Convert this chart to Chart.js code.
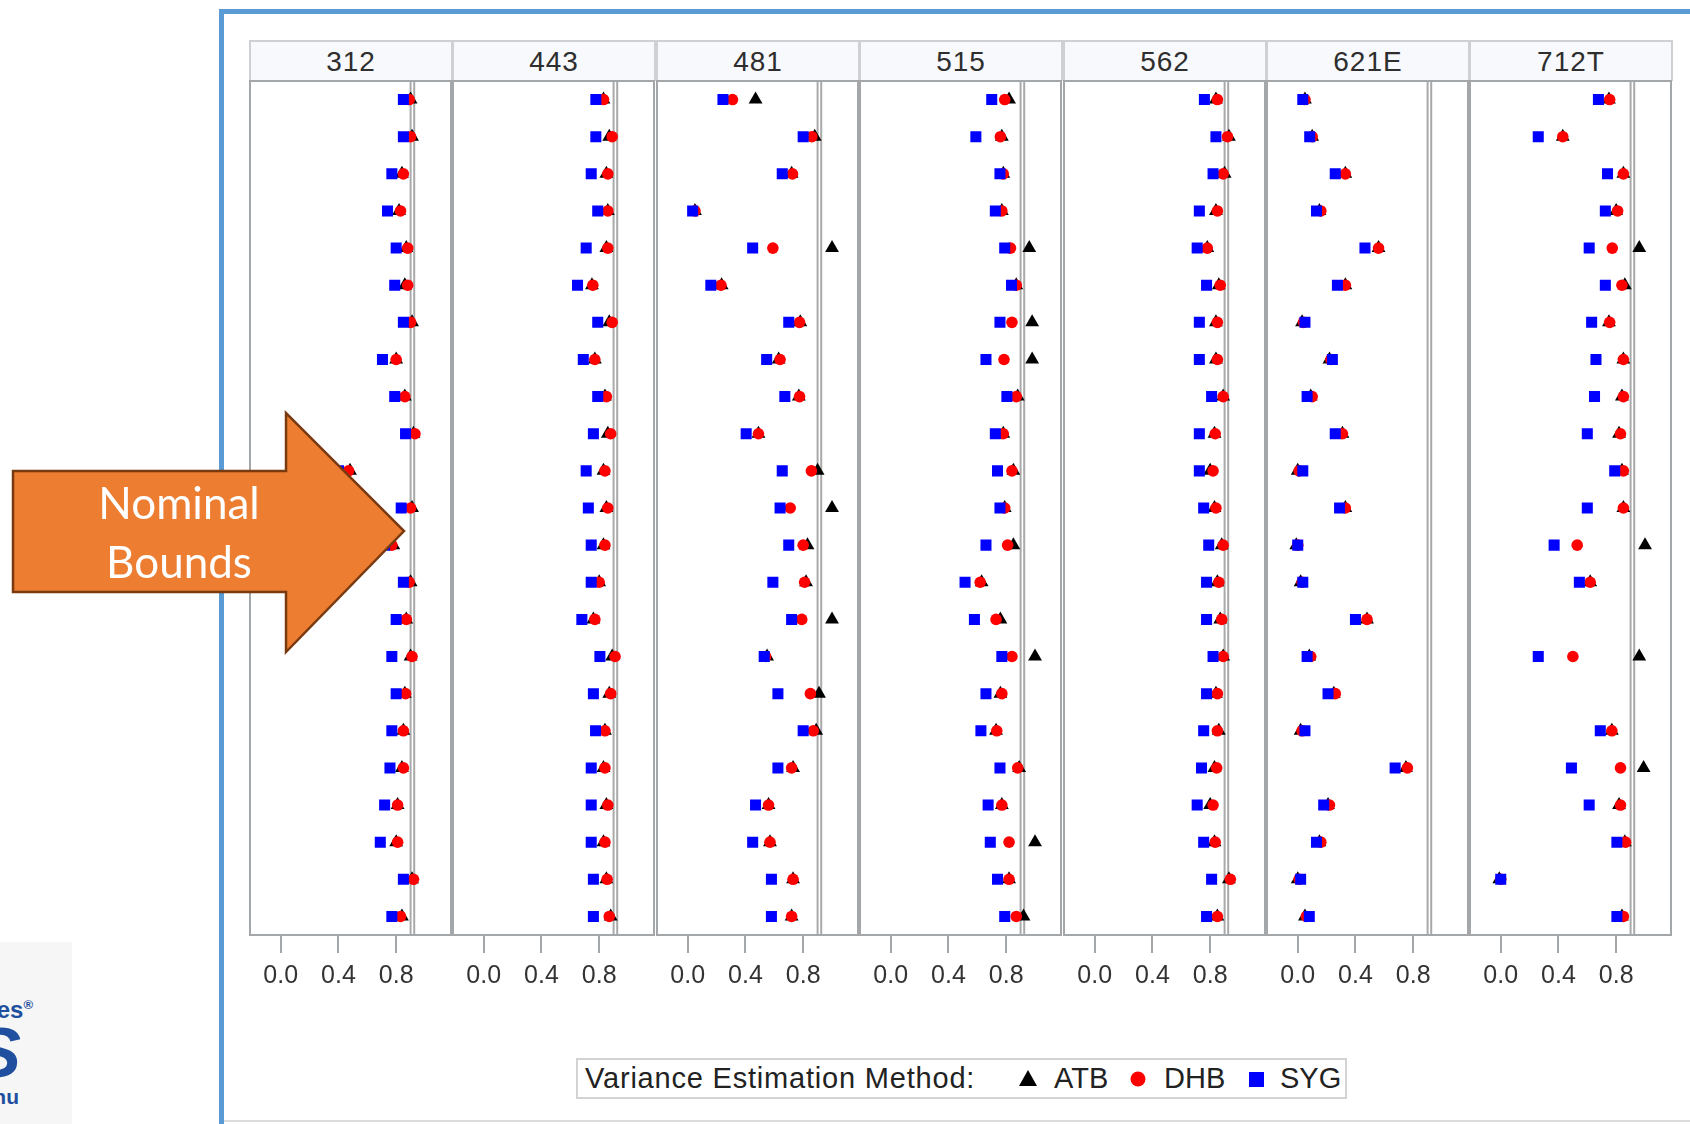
<!DOCTYPE html>
<html>
<head>
<meta charset="utf-8">
<script src="https://cdn.jsdelivr.net/npm/chart.js@4.4.1/dist/chart.umd.min.js"></script>
<style>
  html, body { margin: 0; padding: 0; background: #fff; }
  body { width: 1690px; height: 1124px; position: relative; overflow: hidden;
         font-family: 'Liberation Sans', Arial, sans-serif; }
  .frame { position: absolute; left: 219px; top: 9px; width: 1600px; height: 1300px;
           border: 5px solid #5b9bd5; box-sizing: border-box; }
  .bottom-rule { position: absolute; left: 224px; top: 1120px; width: 1470px; height: 2px; background: #dcdcdc; }
  .hdr { position: absolute; top: 40px; height: 41px; box-sizing: border-box;
         border: 2px solid #cfd0d3; border-bottom: none; background: #f8f9fd;
         color: #2e2e2e; font-size: 28px; line-height: 39px; text-align: center; letter-spacing: 1px; }
  canvas.panel { position: absolute; top: 77px; }
  .legend-box { position: absolute; left: 576px; top: 1058px; width: 771px; height: 41px;
                box-sizing: border-box; border: 2px solid #d3d3d3; background: #fff; }
  .lg { position: absolute; top: 1063px; height: 30px; line-height: 30px; font-size: 29px; color: #222; white-space: nowrap; }
  .logo { position: absolute; left: 0; top: 942px; width: 72px; height: 182px; background: #f6f6f6; }
  .logo span { position: absolute; color: #1f4f9e; font-weight: bold; white-space: nowrap; transform: translateX(-100%); }
  svg.overlay { position: absolute; left: 0; top: 0; }
</style>
</head>
<body>
<div class="frame"></div>
<div class="bottom-rule"></div>

<div class="logo">
  <span style="left:33px; top:54px; font-size:24px;">ces<sup style="font-size:13px;">®</sup></span>
  <span style="left:21px; top:76px; font-size:70px; line-height:70px; font-style:italic;">S</span>
  <span style="left:19px; top:143px; font-size:21px;">nu</span>
</div>

<div class="legend-box"></div>
<div class="lg" style="left:585px; letter-spacing:0.8px;">Variance Estimation Method:</div>
<svg class="overlay" width="1690" height="1124" style="pointer-events:none;">
  <polygon points="1019,1086 1037,1086 1028,1070" fill="#000"/>
  <circle cx="1138" cy="1079" r="7.5" fill="#ff0000"/>
  <rect x="1249" y="1072" width="15" height="15" fill="#0000ff"/>
</svg>
<div class="lg" style="left:1054px;">ATB</div>
<div class="lg" style="left:1164px;">DHB</div>
<div class="lg" style="left:1280px;">SYG</div>

<script>
// Panels (one per stratum) and the 23 rows plotted in each panel, top to bottom
const PANELS = ['312', '443', '481', '515', '562', '621E', '712T'];
const ROWS = ['1', '2', '3', '4', '5', '6', '7', '8', '9', '10', '11', '12',
              '13', '14', '15', '16', '17', '18', '19', '20', '21', '22', '23'];

// Axis ticks and the nominal coverage bounds
const X_TICKS = [0, 0.4, 0.8];
const X_TICK_LABELS = ['0.0', '0.4', '0.8'];
const NOMINAL_BOUNDS = [0.9, 0.925];

// Coverage by variance estimation method, one array per panel (null = not estimated)
const ATB = [
  [0.90, 0.91, 0.84, 0.82, 0.87, 0.86, 0.91, 0.80, 0.86, 0.92, 0.48, 0.91, 0.78, 0.90, 0.87, 0.90, 0.86, 0.85, 0.84, 0.81, 0.80, 0.91, 0.84],
  [0.83, 0.87, 0.85, 0.86, 0.85, 0.75, 0.87, 0.77, 0.84, 0.86, 0.83, 0.85, 0.83, 0.80, 0.76, 0.89, 0.87, 0.84, 0.83, 0.85, 0.83, 0.85, 0.88],
  [0.47, 0.88, 0.72, 0.05, 1.00, 0.235, 0.78, 0.63, 0.77, 0.49, 0.90, 1.00, 0.83, 0.82, 1.00, 0.55, 0.91, 0.89, 0.73, 0.56, 0.57, 0.73, 0.72],
  [0.82, 0.77, 0.78, 0.77, 0.96, 0.87, 0.98, 0.98, 0.88, 0.78, 0.85, 0.79, 0.85, 0.63, 0.76, 1.00, 0.76, 0.73, 0.89, 0.77, 1.00, 0.82, 0.92],
  [0.84, 0.93, 0.90, 0.84, 0.78, 0.86, 0.84, 0.84, 0.89, 0.83, 0.80, 0.83, 0.88, 0.85, 0.87, 0.89, 0.84, 0.86, 0.83, 0.80, 0.83, 0.93, 0.85],
  [0.05, 0.10, 0.33, 0.15, 0.56, 0.33, 0.03, 0.22, 0.09, 0.31, 0.00, 0.33, -0.01, 0.02, 0.48, 0.08, 0.25, 0.02, 0.75, 0.21, 0.15, 0.00, 0.05],
  [0.75, 0.43, 0.85, 0.80, 0.96, 0.86, 0.75, 0.85, 0.84, 0.82, 0.84, 0.85, 1.00, 0.62, null, 0.96, null, 0.77, 0.99, 0.82, 0.86, -0.01, 0.84]
];
const DHB = [
  [0.89, 0.90, 0.85, 0.83, 0.88, 0.88, 0.90, 0.80, 0.86, 0.93, 0.47, 0.90, 0.77, 0.89, 0.87, 0.91, 0.865, 0.85, 0.85, 0.81, 0.81, 0.92, 0.83],
  [0.83, 0.89, 0.86, 0.86, 0.86, 0.756, 0.89, 0.77, 0.85, 0.88, 0.84, 0.86, 0.84, 0.80, 0.77, 0.91, 0.88, 0.84, 0.84, 0.86, 0.84, 0.855, 0.87],
  [0.31, 0.86, 0.726, 0.05, 0.59, 0.23, 0.775, 0.64, 0.775, 0.49, 0.857, 0.71, 0.80, 0.81, 0.79, 0.54, 0.85, 0.87, 0.72, 0.56, 0.57, 0.73, 0.72],
  [0.79, 0.76, 0.78, 0.77, 0.83, 0.87, 0.84, 0.785, 0.87, 0.78, 0.84, 0.79, 0.81, 0.62, 0.73, 0.84, 0.77, 0.735, 0.88, 0.77, 0.82, 0.82, 0.87],
  [0.85, 0.92, 0.89, 0.85, 0.78, 0.87, 0.85, 0.85, 0.89, 0.835, 0.82, 0.84, 0.89, 0.86, 0.88, 0.89, 0.85, 0.85, 0.845, 0.82, 0.835, 0.94, 0.85],
  [0.05, 0.10, 0.33, 0.16, 0.56, 0.33, 0.04, 0.23, 0.10, 0.31, 0.01, 0.33, 0.00, 0.03, 0.48, 0.09, 0.26, 0.03, 0.76, 0.22, 0.16, 0.01, 0.06],
  [0.755, 0.43, 0.85, 0.81, 0.773, 0.84, 0.755, 0.85, 0.85, 0.83, 0.85, 0.85, 0.53, 0.62, null, 0.50, null, 0.77, 0.83, 0.83, 0.865, 0.00, 0.85]
];
const SYG = [
  [0.85, 0.85, 0.77, 0.74, 0.80, 0.79, 0.85, 0.705, 0.79, 0.865, 0.40, 0.835, 0.72, 0.85, 0.80, 0.77, 0.80, 0.77, 0.757, 0.72, 0.69, 0.85, 0.77],
  [0.777, 0.777, 0.745, 0.79, 0.71, 0.65, 0.79, 0.69, 0.79, 0.76, 0.71, 0.725, 0.745, 0.745, 0.68, 0.805, 0.76, 0.775, 0.745, 0.745, 0.745, 0.76, 0.76],
  [0.244, 0.80, 0.655, 0.034, 0.45, 0.16, 0.70, 0.547, 0.673, 0.405, 0.655, 0.64, 0.70, 0.59, 0.72, 0.53, 0.625, 0.80, 0.625, 0.47, 0.45, 0.58, 0.58],
  [0.70, 0.59, 0.757, 0.725, 0.79, 0.837, 0.757, 0.66, 0.805, 0.725, 0.74, 0.757, 0.66, 0.515, 0.58, 0.77, 0.66, 0.625, 0.757, 0.675, 0.69, 0.74, 0.79],
  [0.76, 0.84, 0.82, 0.725, 0.71, 0.775, 0.725, 0.725, 0.81, 0.725, 0.725, 0.755, 0.79, 0.775, 0.775, 0.82, 0.775, 0.755, 0.74, 0.71, 0.755, 0.81, 0.775],
  [0.035, 0.083, 0.26, 0.13, 0.466, 0.275, 0.05, 0.24, 0.065, 0.26, 0.035, 0.29, 0.00, 0.035, 0.40, 0.065, 0.21, 0.05, 0.675, 0.18, 0.13, 0.02, 0.08],
  [0.677, 0.26, 0.74, 0.725, 0.613, 0.725, 0.63, 0.66, 0.65, 0.60, 0.79, 0.60, 0.37, 0.545, null, 0.26, null, 0.69, 0.49, 0.613, 0.805, 0.00, 0.805]
];

// Panel geometry
const PANEL_LEFT0 = 250, PANEL_STEP = 203.4, PLOT_W = 201, PAD = 4;
const FRAME_COLOR = '#a4a7aa';

// Draws the panel border and the two nominal-bound reference lines
const panelFrame = {
  id: 'panelFrame',
  beforeDatasetsDraw(chart) {
    const { ctx, chartArea: a, scales: { x } } = chart;
    ctx.save();
    ctx.strokeStyle = '#a9a9a9';
    ctx.lineWidth = 2;
    NOMINAL_BOUNDS.forEach(v => {
      const px = x.getPixelForValue(v);
      ctx.beginPath();
      ctx.moveTo(px, a.top);
      ctx.lineTo(px, a.bottom);
      ctx.stroke();
    });
    ctx.strokeStyle = FRAME_COLOR;
    ctx.strokeRect(a.left, a.top, a.right - a.left, a.bottom - a.top);
    ctx.restore();
  }
};

function points(values) {
  const out = [];
  values.forEach((v, i) => { if (v !== null) out.push({ x: v, y: ROWS[i] }); });
  return out;
}

PANELS.forEach((name, p) => {
  const left = Math.round(PANEL_LEFT0 + p * PANEL_STEP);

  const hdr = document.createElement('div');
  hdr.className = 'hdr';
  hdr.style.left = (left - 1) + 'px';
  hdr.style.width = (Math.round(PANEL_STEP) + 1) + 'px';
  hdr.textContent = name;
  document.body.appendChild(hdr);

  const canvas = document.createElement('canvas');
  canvas.className = 'panel';
  canvas.width = PLOT_W + 2 * PAD;
  canvas.height = 928;
  canvas.style.left = (left - PAD) + 'px';
  document.body.appendChild(canvas);

  new Chart(canvas, {
    type: 'scatter',
    data: {
      datasets: [
        { label: 'ATB', data: points(ATB[p]), pointStyle: 'triangle', pointRadius: 8,
          backgroundColor: '#000000', borderWidth: 0, order: 3 },
        { label: 'DHB', data: points(DHB[p]), pointStyle: 'circle', pointRadius: 5.8,
          backgroundColor: '#ff0000', borderWidth: 0, order: 2 },
        { label: 'SYG', data: points(SYG[p]), pointStyle: 'rect', pointRadius: 7.8,
          backgroundColor: '#0000ff', borderWidth: 0, order: 1 }
      ]
    },
    options: {
      responsive: false,
      animation: false,
      events: [],
      layout: { autoPadding: false, padding: { left: PAD, right: PAD, top: PAD, bottom: 0 } },
      plugins: { legend: { display: false }, tooltip: { enabled: false } },
      scales: {
        x: {
          type: 'linear',
          min: -0.213,
          max: 1.18,
          border: { display: false },
          grid: { drawOnChartArea: false, drawTicks: true, tickLength: 18,
                  color: FRAME_COLOR, lineWidth: 2 },
          ticks: {
            padding: 8,
            color: '#333333',
            font: { family: "'Liberation Sans', Arial, sans-serif", size: 25 },
            callback: (v, i) => X_TICK_LABELS[i]
          },
          afterBuildTicks: scale => { scale.ticks = X_TICKS.map(v => ({ value: v })); },
          afterFit: scale => { scale.height = 70; }
        },
        y: { type: 'category', labels: ROWS, offset: true, display: false }
      }
    },
    plugins: [panelFrame]
  });
});
</script>

<svg class="overlay" width="1690" height="1124" style="z-index:10;">
  <polygon points="13,471 286,471 286,413 404,531 286,652 286,592 13,592"
           fill="#ed7d31" stroke="#7a3a10" stroke-width="2.5" stroke-linejoin="miter"/>
  <text x="179" y="519" text-anchor="middle" fill="#ffffff"
        font-family="Lato, 'Open Sans', sans-serif" font-size="44">Nominal</text>
  <text x="179" y="578" text-anchor="middle" fill="#ffffff"
        font-family="Lato, 'Open Sans', sans-serif" font-size="44">Bounds</text>
</svg>
</body>
</html>
